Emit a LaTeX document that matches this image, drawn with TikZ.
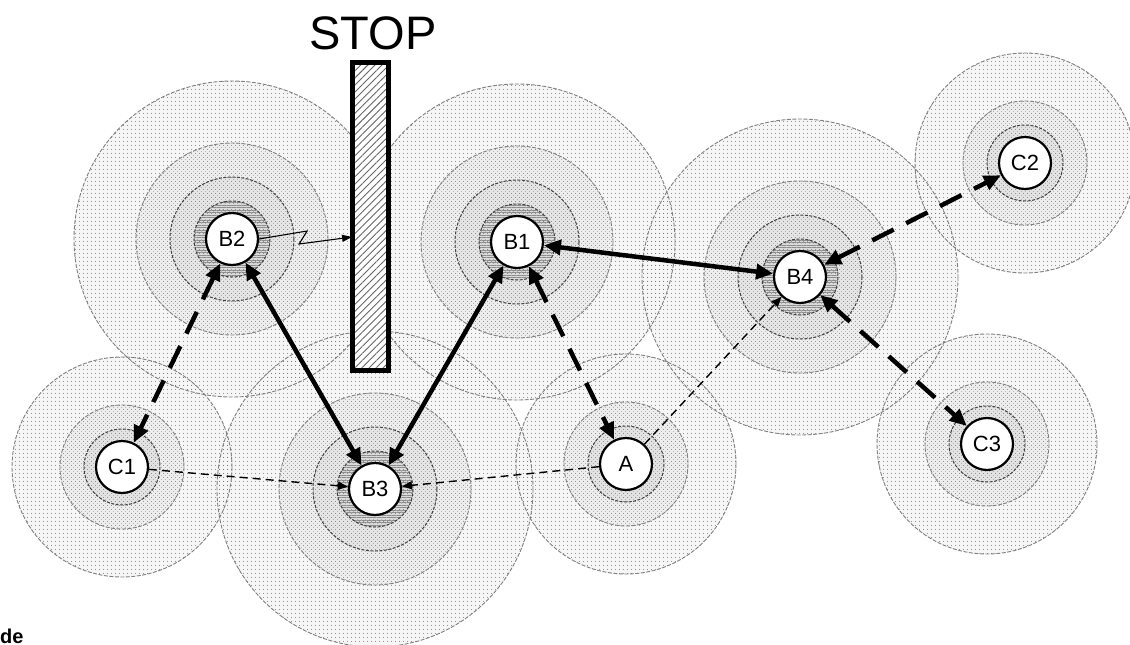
\documentclass[tikz,border=0pt]{standalone}
\usepackage{fontspec}
\setmainfont{Liberation Sans}
\usetikzlibrary{arrows.meta,patterns.meta}
\begin{document}
\begin{tikzpicture}[x=1pt,y=-1pt,
  stn/.style={circle,draw,line width=2.2pt,fill=white,minimum size=52pt,inner sep=0pt,font=\fontsize{22}{24}\selectfont},
  ringout/.style={draw=black!50,line width=0.9pt,dash pattern=on 4pt off 1.5pt},
  ringin/.style={draw=black!75,line width=1pt,dash pattern=on 3pt off 1.5pt},
  thickarr/.style={line width=4.5pt,{Triangle[length=17pt,width=15pt]}-{Triangle[length=17pt,width=15pt]}},
  thickdash/.style={thickarr,dash pattern=on 24pt off 14pt},
  thindash/.style={line width=1.4pt,dash pattern=on 8pt off 5pt,-{Triangle[length=10pt,width=8pt]}},
  zigarr/.style={line width=1.1pt,-{Triangle[length=10pt,width=7pt]}}]
\useasboundingbox (0,0) rectangle (1130,645);
\def\Bnodes{232/239,517/242,800/277,375/489}
\def\Snodes{1025/163,122/467,626/464,987/444}
% zone fills
\foreach \x/\y in \Bnodes {\fill[gray!7] (\x,\y) circle[radius=158];}
\foreach \x/\y in \Snodes {\fill[gray!7] (\x,\y) circle[radius=110];}
\foreach \x/\y in \Bnodes {\fill[gray!13] (\x,\y) circle[radius=96];}
\foreach \x/\y in \Snodes {\fill[gray!13] (\x,\y) circle[radius=62];}
\foreach \x/\y in \Bnodes {\fill[gray!20] (\x,\y) circle[radius=62];}
\foreach \x/\y in \Snodes {\fill[gray!22] (\x,\y) circle[radius=38];}
\foreach \x/\y in \Bnodes {\fill[gray!28] (\x,\y) circle[radius=38];}
% stipple patterns
\foreach \x/\y in \Bnodes {\fill[pattern={Dots[distance=4pt,radius=0.6pt]},pattern color=black!55] (\x,\y) circle[radius=158];}
\foreach \x/\y in \Snodes {\fill[pattern={Dots[distance=4pt,radius=0.6pt]},pattern color=black!55] (\x,\y) circle[radius=110];}
\foreach \x/\y in \Bnodes {\fill[pattern={Dots[distance=4pt,radius=0.5pt,xshift=2pt,yshift=2pt]},pattern color=black!45] (\x,\y) circle[radius=96];}
\foreach \x/\y in \Snodes {\fill[pattern={Dots[distance=4pt,radius=0.5pt,xshift=2pt,yshift=2pt]},pattern color=black!45] (\x,\y) circle[radius=62];}
\foreach \x/\y in \Bnodes {\fill[pattern={Lines[angle=0,distance=2.5pt,line width=0.7pt]},pattern color=black!45] (\x,\y) circle[radius=38];}
% ring outlines
\foreach \x/\y in \Bnodes {\path[ringout] (\x,\y) circle[radius=158] circle[radius=96];
  \path[ringin] (\x,\y) circle[radius=62] circle[radius=38];}
\foreach \x/\y in \Snodes {\path[ringout] (\x,\y) circle[radius=110] circle[radius=62];
  \path[ringin] (\x,\y) circle[radius=38];}
% STOP bar
\node[draw,line width=5pt,minimum width=36pt,minimum height=308pt,inner sep=0pt,
  preaction={fill=white},pattern={Lines[angle=45,distance=5pt,line width=0.9pt]},pattern color=black!60] (bar) at (370.5,216.5) {};
\node[font=\fontsize{47}{50}\selectfont,inner sep=0pt] (stop) at (373,33) {STOP};
% stations
\node[stn] (B2) at (232,239) {B2};
\node[stn] (B1) at (517,242) {B1};
\node[stn] (B4) at (800,277) {B4};
\node[stn] (B3) at (375,489) {B3};
\node[stn] (C2) at (1025,163) {C2};
\node[stn] (C1) at (122,467) {C1};
\node[stn] (A) at (626,464) {A};
\node[stn] (C3) at (987,444) {C3};
% connectors
\draw[thickarr] (B2) -- (B3);
\draw[thickarr] (B1) -- (B3);
\draw[thickarr] (B1) -- (B4);
\draw[thickdash] (B2) -- (C1);
\draw[thickdash] (B1) -- (A);
\draw[thickdash] (B4) -- (C2);
\draw[thickdash] (B4) -- (C3);
\draw[thindash] (C1) -- (B3);
\draw[thindash] (A) -- (B3);
\draw[thindash] (A) -- (B4);
\draw[zigarr] (B2.east) -- ++(48,-8) -- ++(-8,13) -- (bar.west |- 0,237);
\node[font=\bfseries\fontsize{20}{22}\selectfont,anchor=base west,inner sep=0pt] (frag) at (0,643) {de};
\end{tikzpicture}
\end{document}
